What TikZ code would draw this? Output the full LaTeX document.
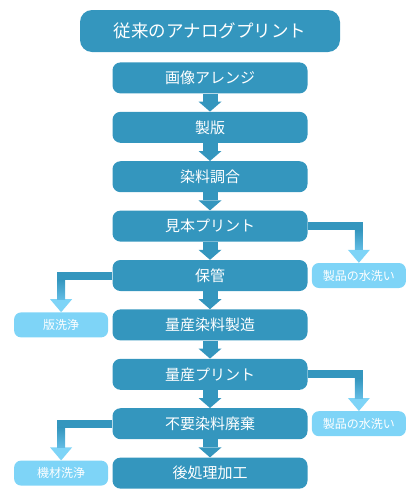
\documentclass[tikz,border=0pt]{standalone}
\usepackage{fontspec}
\setmainfont{Noto Sans CJK JP}
\usetikzlibrary{positioning,arrows.meta}
\definecolor{stageblue}{RGB}{52,150,190}
\definecolor{washblue}{RGB}{126,212,247}
\definecolor{fadeblue}{RGB}{98,188,228}
\begin{document}
\begin{tikzpicture}[
    x=1pt, y=1pt,
    headbox/.style={rectangle, fill=stageblue, rounded corners=12pt, minimum width=260pt,
        minimum height=42pt, text=white, font=\fontsize{17.5}{20}\selectfont},
    stage/.style={rectangle, fill=stageblue, rounded corners=8pt, minimum width=195pt,
        minimum height=31pt, text=white, font=\fontsize{15}{18}\selectfont},
    washbox/.style={rectangle, fill=washblue, rounded corners=7pt, minimum width=94pt,
        minimum height=25pt, text=white, font=\fontsize{12}{14}\selectfont},
    flow/.style={draw=stageblue, line width=15pt,
        -{Triangle[width=23pt, length=10pt, line width=0pt]}},
    branch/.style={draw=stageblue, line width=8pt,
        -{Triangle[width=22pt, length=13pt, line width=0pt, color=washblue]}},
    fadeshaft/.style={top color=stageblue, bottom color=fadeblue},
    node distance=18pt
]
\useasboundingbox (0,0) rectangle (416,-496);

\node (Title) [headbox] at (210,-31) {従来のアナログプリント};
\node (Arrange) [stage, below=10pt of Title] {画像アレンジ};
\node (Plate) [stage, below=of Arrange] {製版};
\node (Mix) [stage, below=of Plate] {染料調合};
\node (Proof) [stage, below=of Mix] {見本プリント};
\node (Keep) [stage, below=of Proof] {保管};
\node (Dye) [stage, below=of Keep] {量産染料製造};
\node (Print) [stage, below=of Dye] {量産プリント};
\node (Waste) [stage, below=of Print] {不要染料廃棄};
\node (Finish) [stage, below=of Waste] {後処理加工};

\node (Rinse1) [washbox, right=4pt of Keep] {製品の水洗い};
\node (Wash1) [washbox, left=4pt of Dye] {版洗浄};
\node (Rinse2) [washbox, right=4pt of Waste] {製品の水洗い};
\node (Wash2) [washbox, left=4pt of Finish] {機材洗浄};

\draw[flow] (Arrange) -- (Plate);
\draw[flow] (Plate) -- (Mix);
\draw[flow] (Mix) -- (Proof);
\draw[flow] (Proof) -- (Keep);
\draw[flow] (Keep) -- (Dye);
\draw[flow] (Dye) -- (Print);
\draw[flow] (Print) -- (Waste);
\draw[flow] (Waste) -- (Finish);

\coordinate (BendR1) at (Proof.east -| Rinse1.north);
\coordinate (BendW1) at (Keep.west -| Wash1.north);
\coordinate (BendR2) at (Print.east -| Rinse2.north);
\coordinate (BendW2) at (Waste.west -| Wash2.north);

\draw[branch] (Proof.east) -| (Rinse1.north);
\draw[branch] (Keep.west) -| (Wash1.north);
\draw[branch] (Print.east) -| (Rinse2.north);
\draw[branch] (Waste.west) -| (Wash2.north);

\shade[fadeshaft] ([shift={(-4pt,-4pt)}]BendR1) rectangle ([shift={(4pt,13pt)}]Rinse1.north);
\shade[fadeshaft] ([shift={(-4pt,-4pt)}]BendW1) rectangle ([shift={(4pt,13pt)}]Wash1.north);
\shade[fadeshaft] ([shift={(-4pt,-4pt)}]BendR2) rectangle ([shift={(4pt,13pt)}]Rinse2.north);
\shade[fadeshaft] ([shift={(-4pt,-4pt)}]BendW2) rectangle ([shift={(4pt,13pt)}]Wash2.north);

\end{tikzpicture}
\end{document}
